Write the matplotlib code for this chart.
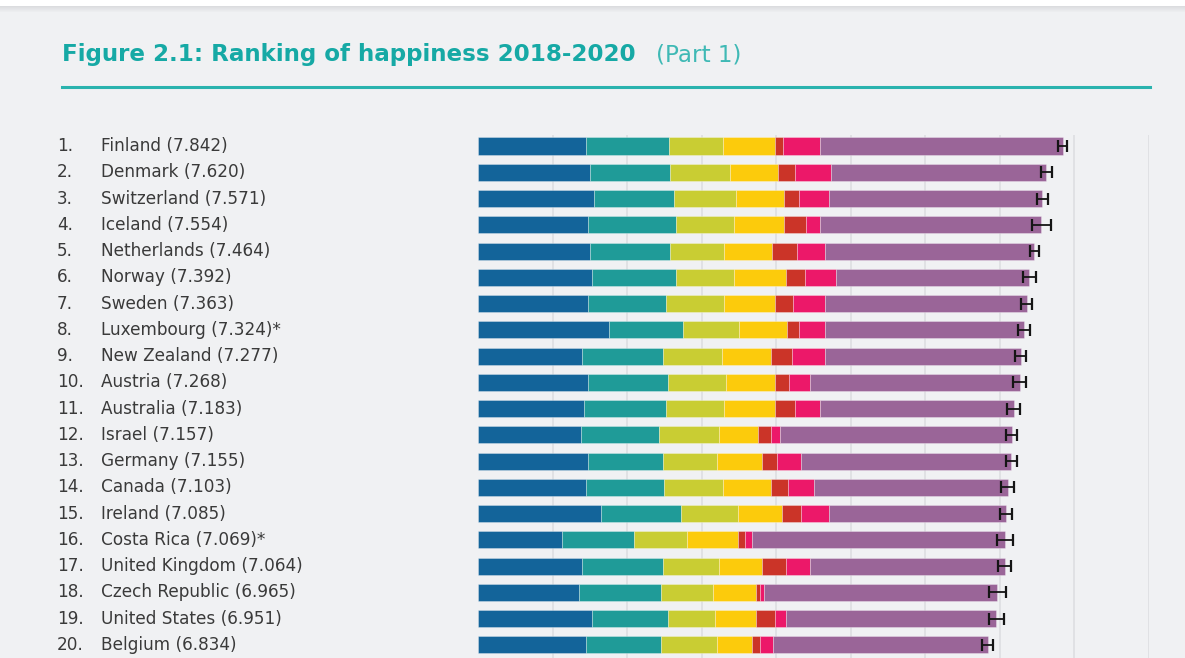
import numpy as np
import matplotlib.pyplot as plt
from matplotlib.transforms import blended_transform_factory

# ranking data
countries = ["Finland", "Denmark", "Switzerland", "Iceland", "Netherlands",
             "Norway", "Sweden", "Luxembourg", "New Zealand", "Austria",
             "Australia", "Israel", "Germany", "Canada", "Ireland",
             "Costa Rica", "United Kingdom", "Czech Republic", "United States",
             "Belgium"]
scores = [7.842, 7.620, 7.571, 7.554, 7.464, 7.392, 7.363, 7.324, 7.277, 7.268,
          7.183, 7.157, 7.155, 7.103, 7.085, 7.069, 7.064, 6.965, 6.951, 6.834]
starred = [False, False, False, False, False, False, False, True, False, False,
           False, False, False, False, False, True, False, False, False, False]

gdp = [1.452, 1.503, 1.553, 1.477, 1.503, 1.526, 1.477, 1.754, 1.400, 1.477,
       1.427, 1.378, 1.477, 1.450, 1.651, 1.128, 1.400, 1.352, 1.526, 1.450]
social = [1.106, 1.074, 1.074, 1.177, 1.074, 1.128, 1.051, 1.001, 1.079, 1.078,
          1.101, 1.051, 1.003, 1.051, 1.078, 0.971, 1.079, 1.101, 1.028, 1.003]
health = [0.726, 0.801, 0.827, 0.773, 0.725, 0.773, 0.774, 0.748, 0.800, 0.774,
          0.774, 0.801, 0.725, 0.779, 0.752, 0.707, 0.752, 0.702, 0.627, 0.752]
freedom = [0.699, 0.649, 0.650, 0.677, 0.648, 0.698, 0.675, 0.648, 0.650, 0.648,
           0.675, 0.523, 0.599, 0.650, 0.600, 0.675, 0.572, 0.577, 0.550, 0.474]
generosity = [0.103, 0.228, 0.205, 0.299, 0.328, 0.255, 0.251, 0.153, 0.277, 0.201,
              0.278, 0.174, 0.201, 0.223, 0.246, 0.099, 0.322, 0.050, 0.246, 0.098]
corruption = [0.501, 0.479, 0.403, 0.179, 0.380, 0.425, 0.430, 0.353, 0.452, 0.278,
              0.326, 0.129, 0.328, 0.349, 0.385, 0.098, 0.328, 0.048, 0.148, 0.174]
dystopia = [3.255, 2.886, 2.859, 2.972, 2.806, 2.587, 2.705, 2.667, 2.619, 2.812,
            2.602, 3.101, 2.822, 2.601, 2.373, 3.391, 2.611, 3.135, 2.826, 2.883]
ci_half = [0.056, 0.074, 0.074, 0.125, 0.060, 0.087, 0.074, 0.076, 0.076, 0.087,
           0.087, 0.076, 0.076, 0.083, 0.083, 0.107, 0.085, 0.114, 0.100, 0.074]

colors = ["#13649a", "#1f9b98", "#c9cd33", "#fccb0c", "#cb3428", "#ec1869", "#9a6598"]
bg = "#f0f1f3"

W, H = 1185, 658
fig = plt.figure(figsize=(W / 100, H / 100), dpi=100, facecolor=bg)

# axes: x 0..9 spans px 478..1149, first row centred at y=146, rows 26.26 px apart
x0, x9 = 478, 1149
top_px = 135
ax = fig.add_axes([x0 / W, 0, (x9 - x0) / W, (H - top_px) / H])
ax.set_facecolor(bg)
row_h = 26.26
ax.set_xlim(0, 9)
ax.set_ylim((H - 146) / row_h, -(146 - top_px) / row_h)

y = np.arange(len(countries))
left = np.zeros(len(countries))
for vals, c in zip([gdp, social, health, freedom, generosity, corruption, dystopia], colors):
    ax.barh(y, vals, left=left, height=0.65, color=c,
            edgecolor=(1, 1, 1, 0.35), linewidth=0.6, zorder=2)
    left = left + np.array(vals)

ax.errorbar(scores, y, xerr=ci_half, fmt='none', ecolor='#151515',
            elinewidth=1.3, capsize=4.5, capthick=1.6, zorder=3)

ax.set_xticks(np.arange(1, 10))
ax.grid(axis='x', color='#dddee1', linewidth=1.2, zorder=0)
ax.tick_params(left=False, bottom=False, labelleft=False, labelbottom=False)
for s in ax.spines.values():
    s.set_visible(False)

# row labels
tr = blended_transform_factory(fig.transFigure, ax.transData)
for i, (name, sc, st) in enumerate(zip(countries, scores, starred)):
    ax.text(57 / W, i, f"{i + 1}.", transform=tr, ha='left', va='center',
            fontsize=12.2, color='#3a3a3a', family='DejaVu Sans')
    lab = f"{name} ({sc:.3f})" + ("*" if st else "")
    ax.text(101 / W, i, lab, transform=tr, ha='left', va='center',
            fontsize=12.2, color='#3a3a3a', family='DejaVu Sans')

# title and rule
fig.text(62 / W, 1 - 55 / H, "Figure 2.1: Ranking of happiness 2018-2020",
         ha='left', va='center', fontsize=16.6, fontweight='bold', color='#16a9a5',
         family='DejaVu Sans')
fig.text(656 / W, 1 - 55 / H, "(Part 1)", ha='left', va='center', fontsize=16.6,
         color='#3fb9b5', family='DejaVu Sans')
fig.add_artist(plt.Line2D([62 / W, 1150 / W], [1 - 87 / H, 1 - 87 / H],
                          color='#2ab3ae', linewidth=2.2))

# white strip with soft shadow at the very top
fig.add_artist(plt.Rectangle((0, 1 - 6 / H), 1, 6 / H, color='white', lw=0))
for k in range(6):
    fig.add_artist(plt.Rectangle((0, 1 - (7 + k) / H), 1, 1 / H, lw=0,
                                 color='#c8c9cc', alpha=0.5 * (1 - k / 6)))

fig.savefig("out.png", dpi=100, facecolor=bg)
